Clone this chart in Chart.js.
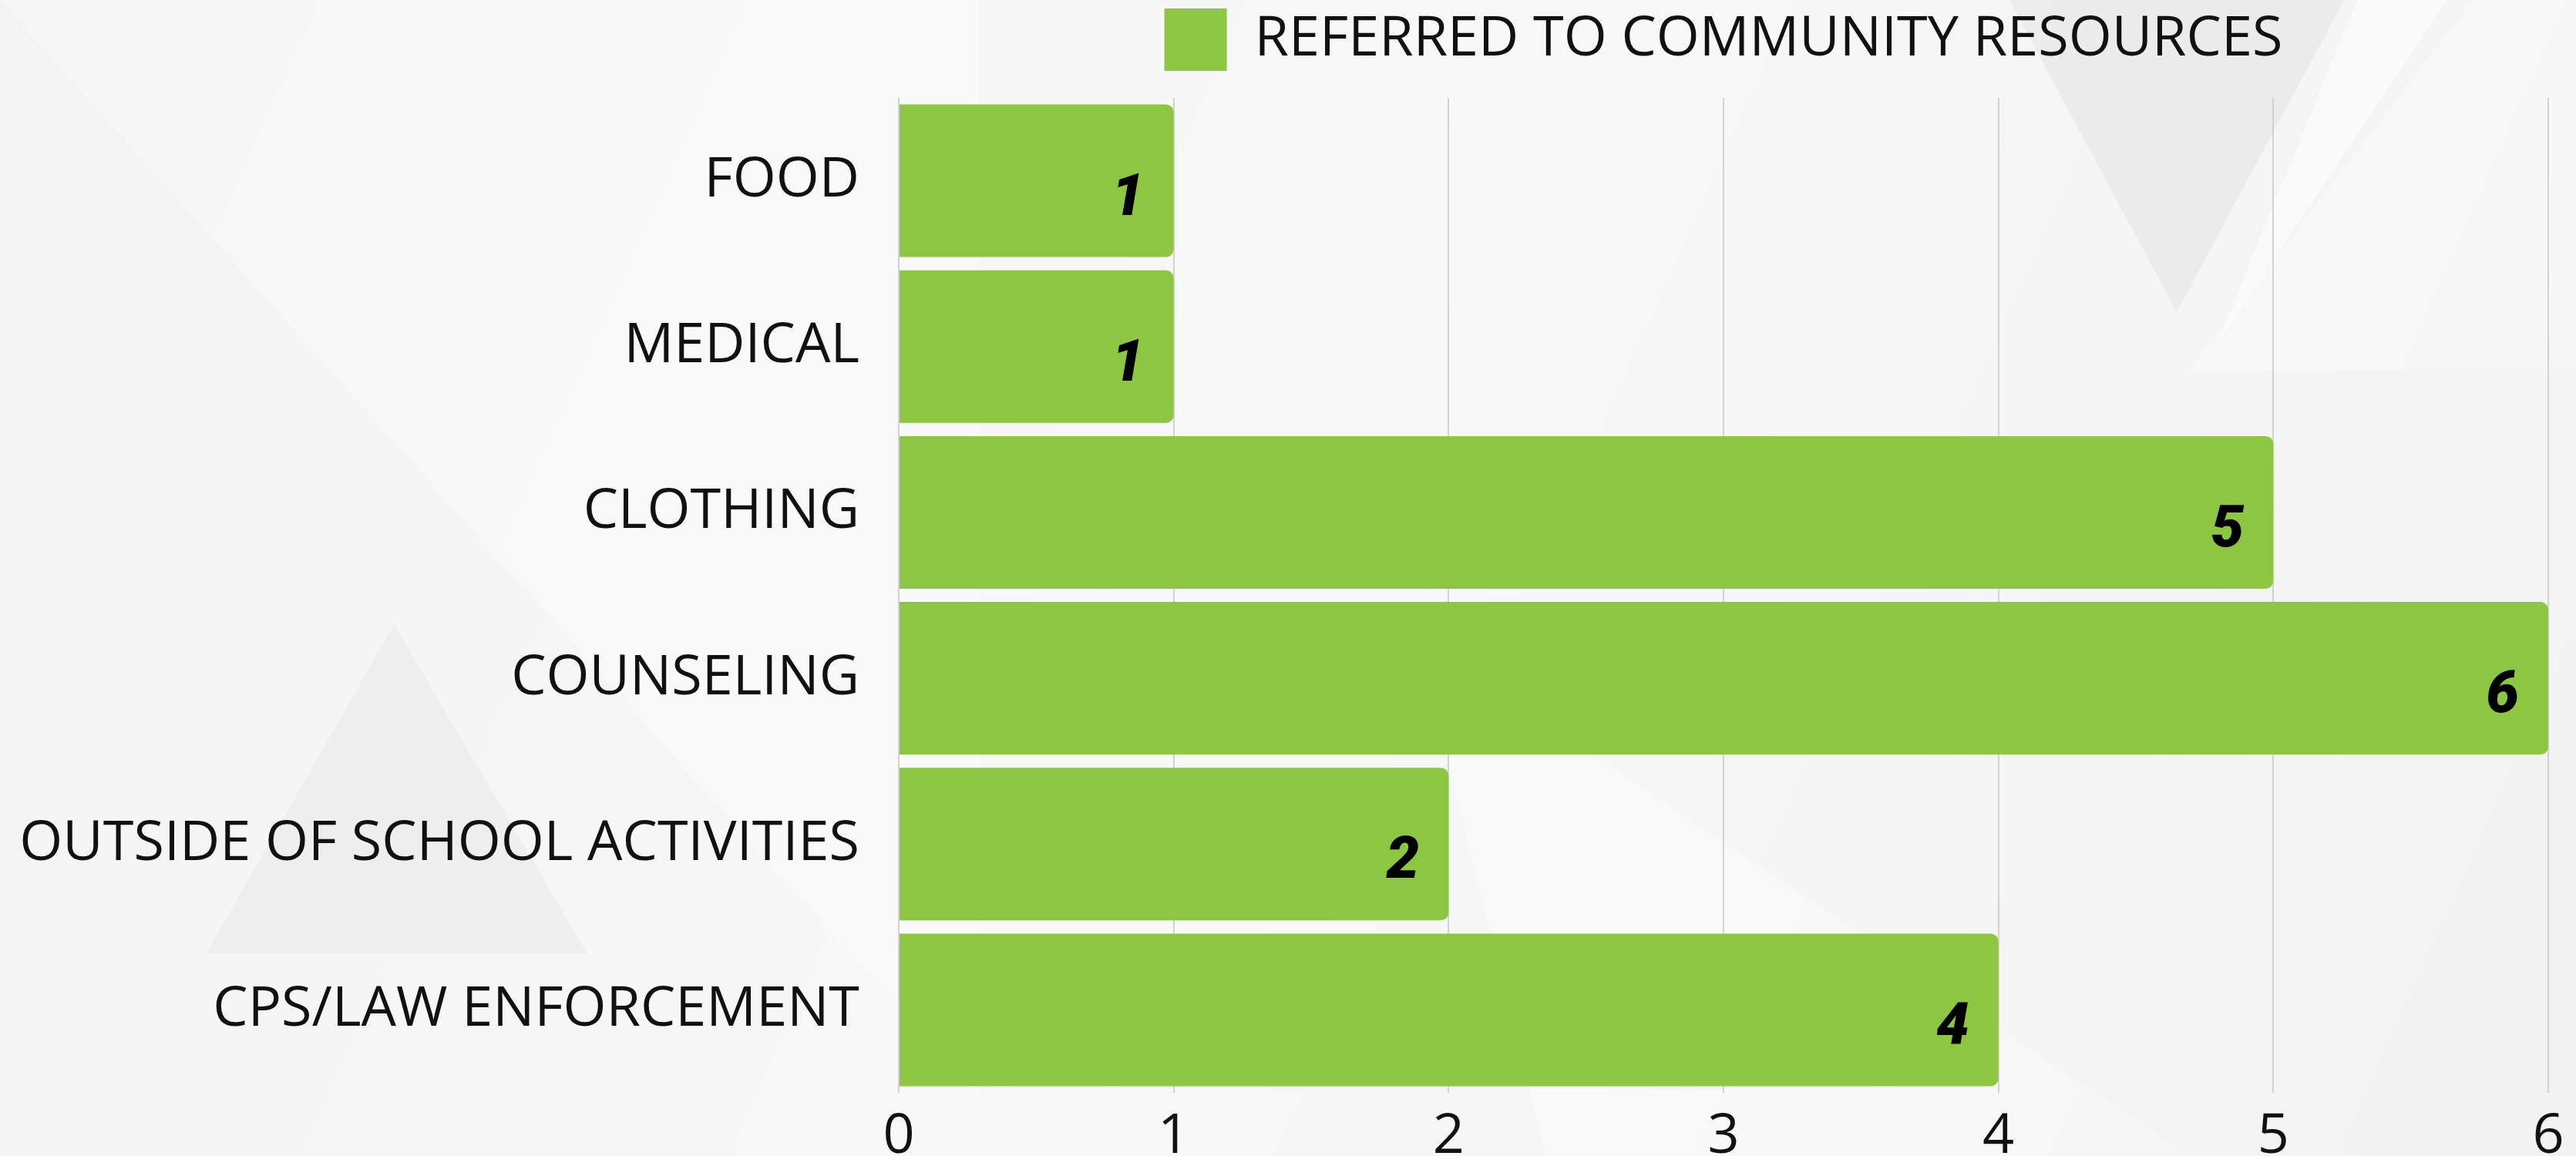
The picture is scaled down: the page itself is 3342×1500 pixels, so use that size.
<!DOCTYPE html>
<html>
<head>
<meta charset="utf-8">
<script src="https://cdn.jsdelivr.net/npm/chart.js@4.4.1/dist/chart.umd.min.js"></script>
<style>
  html, body { margin: 0; padding: 0; background: #f5f5f5; }
  #wrap { width: 3342px; height: 1500px; position: relative; }
</style>
</head>
<body>
<div id="wrap"><canvas id="chart"></canvas></div>
<script>
const categories = [
  'FOOD',
  'MEDICAL',
  'CLOTHING',
  'COUNSELING',
  'OUTSIDE OF SCHOOL ACTIVITIES',
  'CPS/LAW ENFORCEMENT',
]
const referred = [1, 1, 5, 6, 2, 4]
const seriesLabel = 'REFERRED TO COMMUNITY RESOURCES'
const xTicks = [0, 1, 2, 3, 4, 5, 6]

const green = '#8dc641'
const labelFont = '"Open Sans", "DejaVu Sans", sans-serif'

// faint geometric backdrop, like the slide template behind the chart
const backdrop = {
  id: 'backdrop',
  afterInit(chart) {
    // leave a bit more room between legend and plot
    const lg = chart.legend
    if (!lg) return
    const fit = lg.fit.bind(lg)
    lg.fit = function () {
      fit()
      this.height += 25
    }
  },
  beforeDraw(chart) {
    const { ctx, width: w, height: h } = chart
    ctx.save()
    const g = ctx.createLinearGradient(0, 0, w, h)
    g.addColorStop(0, '#f3f3f3')
    g.addColorStop(0.5, '#f8f8f8')
    g.addColorStop(1, '#f2f2f2')
    ctx.fillStyle = g
    ctx.fillRect(0, 0, w, h)
    const tri = (pts, color) => {
      ctx.beginPath()
      ctx.moveTo(pts[0][0] * w, pts[0][1] * h)
      for (let i = 1; i < pts.length; i++) ctx.lineTo(pts[i][0] * w, pts[i][1] * h)
      ctx.closePath()
      ctx.fillStyle = color
      ctx.fill()
    }
    tri([[0.0, 0.0], [0.38, 0.0], [0.38, 0.95]], 'rgba(255,255,255,0.3)')
    tri([[0.78, 0.0], [0.91, 0.0], [0.845, 0.27]], 'rgba(225,225,225,0.45)')
    tri([[0.08, 0.825], [0.228, 0.825], [0.153, 0.54]], 'rgba(232,232,232,0.5)')
    tri([[0.915, 0.0], [0.95, 0.0], [0.86, 0.3]], 'rgba(255,255,255,0.5)')
    tri([[0.85, 0.32], [1.0, 0.32], [1.0, 0.0], [0.96, 0.0]], 'rgba(255,255,255,0.3)')
    tri([[0.55, 0.55], [0.85, 1.0], [0.6, 1.0]], 'rgba(255,255,255,0.3)')
    ctx.restore()
  },
}

const valueLabels = {
  id: 'valueLabels',
  afterDatasetsDraw(chart) {
    const { ctx } = chart
    const meta = chart.getDatasetMeta(0)
    ctx.save()
    ctx.fillStyle = '#000'
    ctx.font = 'italic 900 76px Roboto, "DejaVu Sans", sans-serif'
    ctx.textAlign = 'right'
    ctx.textBaseline = 'middle'
    meta.data.forEach((bar, i) => {
      ctx.fillText(String(referred[i]), bar.x - 38, bar.y + 25)
    })
    ctx.restore()
  },
}

new Chart(document.getElementById('chart'), {
  type: 'bar',
  data: {
    labels: categories,
    datasets: [
      {
        label: seriesLabel,
        data: referred,
        backgroundColor: green,
        borderRadius: 10,
        borderSkipped: 'start',
        barPercentage: 0.92,
        categoryPercentage: 1,
      },
    ],
  },
  options: {
    indexAxis: 'y',
    responsive: true,
    maintainAspectRatio: false,
    devicePixelRatio: 1,
    animation: false,
    layout: { padding: { left: 0, right: 36, top: 0, bottom: 0 } },
    plugins: {
      legend: {
        position: 'top',
        fullSize: false,
        labels: {
          boxWidth: 81,
          boxHeight: 81,
          padding: 11,
          color: '#111',
          font: { family: labelFont, size: 72 },
        },
      },
      tooltip: { enabled: false },
    },
    scales: {
      x: {
        min: 0,
        max: 6,
        afterBuildTicks: (scale) => {
          scale.ticks = xTicks.map((v) => ({ value: v }))
        },
        afterFit: (scale) => {
          scale.height = 82
        },
        grid: { color: '#d2d2d2', lineWidth: 2, drawTicks: false },
        border: { display: false },
        ticks: {
          color: '#111',
          padding: 14,
          font: { family: labelFont, size: 72 },
        },
      },
      y: {
        grid: { display: false, drawTicks: false },
        border: { display: false },
        afterFit: (scale) => {
          scale.width = 1166
          // the label gap shouldn't push the plot up from the bottom
          scale.paddingTop = 0
          scale.paddingBottom = 0
        },
        ticks: {
          color: '#111',
          padding: 51,
          font: { family: labelFont, size: 72 },
        },
      },
    },
  },
  plugins: [backdrop, valueLabels],
})
</script>
</body>
</html>
